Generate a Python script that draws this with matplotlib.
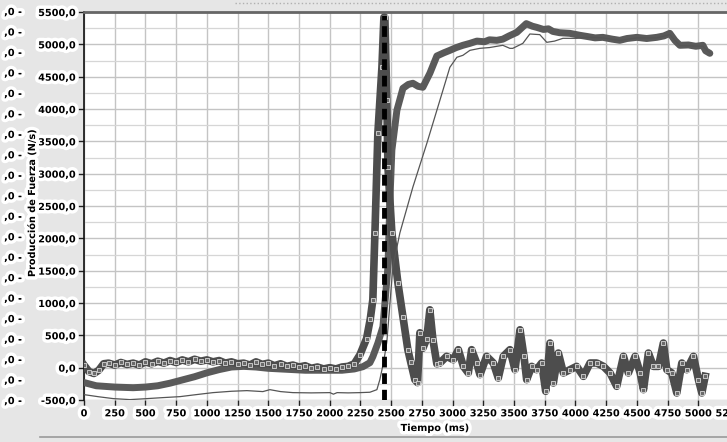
import matplotlib
matplotlib.use("Agg")
import matplotlib.pyplot as plt
import matplotlib.patheffects as pe
from matplotlib.ticker import MultipleLocator, FuncFormatter

# ---------------- data ----------------
# Series A: noisy trace with square markers (peak signal)
a_t = [0, 40, 80, 120, 160, 200, 250, 300, 350, 400, 450, 500, 550, 600, 650, 700, 750,
       800, 850, 900, 950, 1000, 1050, 1100, 1150, 1200, 1250, 1300, 1350, 1400, 1450,
       1500, 1550, 1600, 1650, 1700, 1750, 1800, 1850, 1900, 1950, 2000, 2050, 2100,
       2150, 2200, 2246, 2300, 2330, 2351, 2368, 2392, 2425, 2441, 2449, 2465, 2474,
       2506, 2555, 2596, 2636, 2660, 2693, 2715, 2734, 2758, 2790, 2815, 2840, 2872,
       2897, 2951, 3006, 3047, 3088, 3128, 3155, 3196, 3223, 3277, 3332, 3372, 3413,
       3467, 3508, 3549, 3581, 3603, 3644, 3684, 3725, 3758, 3793, 3820, 3861, 3902,
       3956, 4010, 4065, 4119, 4173, 4228, 4282, 4336, 4391, 4431, 4486, 4527, 4554,
       4594, 4635, 4676, 4716, 4744, 4784, 4825, 4866, 4906, 4961, 5001, 5029, 5056]
a_v = [40, -60, -90, -40, 60, 70, 40, 80, 50, 70, 40, 90, 60, 100, 70, 110, 80,
       120, 90, 130, 100, 120, 90, 110, 70, 90, 60, 70, 40, 90, 50,
       70, 30, 60, 20, 40, 10, 30, -10, 10, -20, 0, -20, 10,
       20, 60, 200, 450, 750, 1050, 2083, 3626, 4645, 5417, 5417, 4136, 3102,
       2083, 1312, 787, 278, 80, -185, -231, 540, 300, 450, 895, 432, 60,
       72, 175, 123, 278, 20, -82, 278, 72, -108, 175, 72, -160, 175,
       278, -31, 586, 175, -185, 20, -31, 72, -365, 381, -237, 226, -82,
       -31, 20, -134, 72, 72, 20, -82, -288, 175, -82, 175, -82, -340,
       226, 20, 20, 381, -31, -82, -391, 72, -31, 175, -185, -391, -134]

# Series B: thick grey trace (cumulative force)
b_t = [0, 100, 250, 400, 500, 600, 700, 800, 900, 1000, 1100, 1200, 1300, 1400, 1500,
       1600, 1700, 1800, 1900, 2000, 2100, 2200, 2270, 2327, 2351, 2392, 2433, 2474,
       2490, 2506, 2547, 2596, 2640, 2677, 2720, 2758, 2815, 2872, 2930, 2978, 3030,
       3084, 3141, 3198, 3260, 3300, 3360, 3409, 3460, 3523, 3560, 3600, 3650, 3686,
       3740, 3780, 3816, 3870, 3954, 4036, 4100, 4160, 4223, 4300, 4361, 4420, 4500,
       4580, 4662, 4720, 4768, 4810, 4850, 4920, 4980, 5037, 5060, 5094]
b_v = [-230, -280, -300, -310, -300, -280, -240, -190, -140, -80, -30, 10, 20, 10, -10,
       -20, -30, -40, -40, -40, -40, -20, 15, 77, 170, 380, 633, 1559,
       2593, 3364, 3981, 4320, 4380, 4398, 4350, 4336, 4552, 4820, 4870, 4907, 4950,
       4985, 5015, 5050, 5040, 5070, 5062, 5080, 5130, 5185, 5250, 5320, 5280, 5262,
       5230, 5240, 5200, 5180, 5170, 5140, 5120, 5100, 5108, 5080, 5062, 5090, 5108,
       5090, 5108, 5130, 5170, 5060, 4985, 4990, 4970, 4985, 4900, 4861]

# Series C: thin line
c_t = [0, 120, 236, 374, 500, 643, 781, 900, 1050, 1200, 1326, 1456, 1513, 1600, 1700,
       1850, 2002, 2030, 2060, 2150, 2246, 2327, 2384, 2408, 2440, 2465, 2514, 2571,
       2677, 2791, 2897, 2978, 3035, 3084, 3141, 3222, 3300, 3409, 3466, 3490, 3572,
       3629, 3710, 3767, 3830, 3898, 4011, 4100, 4223, 4361, 4500, 4662, 4768, 4850,
       5037, 5094]
c_v = [-417, -450, -478, -494, -480, -463, -448, -420, -386, -365, -355, -370, -340, -370,
       -386, -390, -386, -410, -386, -390, -386, -380, -340, -185, 100, 400, 1559, 2083,
       2793, 3472, 4136, 4645, 4800, 4830, 4907, 4938, 4950, 4985, 4938, 4938, 5015,
       5160, 5150, 5031, 5050, 5093, 5093, 5110, 5100, 5060, 5100, 5100, 5150, 4980,
       4970, 4870]

marker_time = 2440
marker_top = 5450

x_ticks = list(range(0, 5251, 250))
y_ticks = list(range(-500, 5501, 500))
ghost_labels = [",0 -"] * 20

# ---------------- figure ----------------
W, H = 727, 442
fig = plt.figure(figsize=(W / 100, H / 100), dpi=100)
fig.patch.set_facecolor("#e6e6e6")

ax = fig.add_axes([84 / W, 42 / H, 645 / W, 388 / H])
ax.set_facecolor("white")
ax.set_xlim(0, 5250)
ax.set_ylim(-500, 5500)

ax.yaxis.set_minor_locator(MultipleLocator(250))
ax.set_xticks(x_ticks)
ax.set_yticks(y_ticks)
ax.yaxis.set_major_formatter(FuncFormatter(lambda v, p: f"{v:.1f}".replace(".", ",")))
ax.xaxis.set_major_formatter(FuncFormatter(lambda v, p: f"{int(v)}"))

ax.grid(True, which="major", color="#c4c4c4", lw=1.0)
ax.grid(True, which="minor", axis="y", color="#d6d6d6", lw=0.9)
ax.set_axisbelow(True)

glow = [pe.withStroke(linewidth=5, foreground="white")]
ax.tick_params(axis="both", which="major", labelsize=7, length=4, width=1,
               color="#222222", direction="out", pad=2)
ax.tick_params(axis="y", which="minor", length=0)
for lab in ax.get_xticklabels() + ax.get_yticklabels():
    lab.set_fontweight("bold")
    lab.set_path_effects(glow)

for s in ["right", "bottom"]:
    ax.spines[s].set_visible(False)
ax.spines["left"].set_color("#111111")
ax.spines["left"].set_linewidth(1.2)
ax.spines["top"].set_color("#666666")
ax.spines["top"].set_linewidth(2)

# series
ax.plot(b_t, b_v, color="#5a5a5a", lw=5, solid_capstyle="round", zorder=3)
ax.plot(a_t, a_v, color="#4d4d4d", lw=5.5, marker="s", ms=3.5, mfc="#6a6a6a",
        mec="#d8d8d8", mew=0.6, zorder=4)
ax.plot(c_t, c_v, color="#555555", lw=0.9, zorder=5)
ax.plot([marker_time, marker_time], [-500, marker_top], color="black", lw=3.5,
        dashes=(2.2, 1.2), zorder=6)

ax.set_xlabel("Tiempo (ms)", fontsize=7, fontweight="bold",
              path_effects=glow)
ax.xaxis.set_label_coords((435 - 84) / 645, -(423 - 400) / 388)
ax.set_ylabel("Producción de Fuerza (N/s)", fontsize=7, fontweight="bold",
              path_effects=glow)
ax.yaxis.set_label_coords((37 - 84) / 645, (400 - 203) / 388)

# ghost labels from a neighbouring (cropped) axis
for i, txt in enumerate(ghost_labels):
    ypix = 12 + i * (389 / 19)
    fig.text(22 / W, 1 - ypix / H, txt, ha="right", va="center", fontsize=7,
             fontweight="bold", path_effects=glow)

# bottom border line
fig.add_artist(plt.Line2D([40 / W, 1], [5 / H, 5 / H], color="#9a9a9a", lw=1.2))
# faint dotted top line
fig.add_artist(plt.Line2D([235 / W, 1], [1 - 3 / H, 1 - 3 / H], color="#b0b0b0",
                          lw=1, ls=":"))

fig.savefig("out.png", dpi=100, facecolor=fig.get_facecolor())
